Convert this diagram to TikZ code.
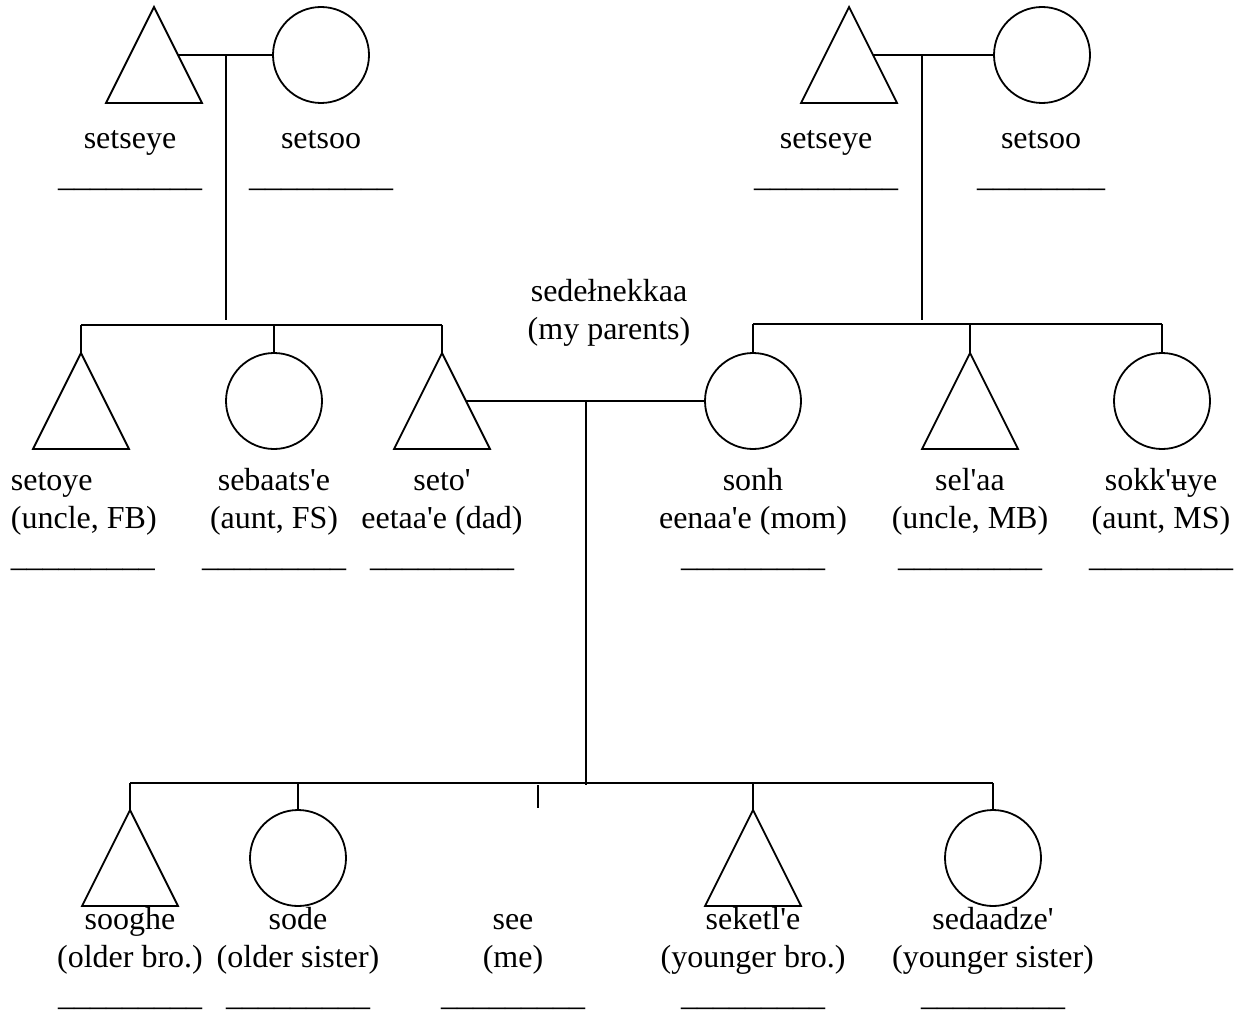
\documentclass[tikz,border=0pt]{standalone}
\usepackage{fontspec}
\setmainfont{Liberation Serif}[Ligatures=TeXOff]
\usetikzlibrary{shapes.geometric}
\tikzset{
  male/.style={draw,isosceles triangle,isosceles triangle stretches,shape border rotate=90,
    minimum width=48pt,minimum height=48pt,inner sep=0pt,outer sep=0pt,anchor=apex},
  female/.style={draw,circle,minimum size=48pt,inner sep=0pt,outer sep=0pt},
  kin/.style={font=\fontsize{16pt}{19pt}\selectfont,align=center,anchor=base,inner sep=0pt}
}
\newcommand{\blank}{\_\_\_\_\_\_\_\_\_}

\begin{document}
\begin{tikzpicture}[x=0.5pt,y=-0.5pt,line width=0.9pt]
		\useasboundingbox (0,0) rectangle (1235,1011);
		% father's side
		\node[male] (fgf) at (154,7) {};
		\node[female] (fgm) at (321,55) {};
		\draw (fgf.right side) -- (fgm.west);
		\coordinate (fsplit) at (226,55);
		\coordinate (fend) at (226,320);
		\draw (fsplit) -- (fend);
		\node[kin] (fgfl) at (130,186) {setseye\\\blank};
		\node[kin] (fgml) at (321,186) {setsoo\\\blank};
		\coordinate (fbarL) at (81,325);
		\coordinate (fbarR) at (442,325);
		\draw (fbarL) -- (fbarR);
		\node[male] (fb) at (81,353) {};
		\node[female] (fs) at (274,401) {};
		\node[male] (dad) at (442,353) {};
		\draw (fbarL) -- (fb.apex);
		\draw (fs.north |- fbarL) -- (fs.north);
		\draw (fbarR) -- (dad.apex);
		\node[kin,align=left,anchor=base west] (fbl) at (10,566) {setoye\\(uncle, FB)\\\blank};
		\node[kin] (fsl) at (274,566) {sebaats'e\\(aunt, FS)\\\blank};
		\node[kin] (dadl) at (442,566) {seto'\\eetaa'e (dad)\\\blank};
		% mother's side
		\node[male] (mgf) at (849,7) {};
		\node[female] (mgm) at (1042,55) {};
		\draw (mgf.right side) -- (mgm.west);
		\coordinate (msplit) at (922,55);
		\coordinate (mend) at (922,320);
		\draw (msplit) -- (mend);
		\node[kin] (mgfl) at (826,186) {setseye\\\blank};
		\node[kin] (mgml) at (1041,186) {setsoo\\\_\_\_\_\_\_\_\_};
		\coordinate (mbarL) at (753,324);
		\coordinate (mbarR) at (1162,324);
		\draw (mbarL) -- (mbarR);
		\node[female] (mom) at (753,401) {};
		\node[male] (mb) at (970,353) {};
		\node[female] (ms) at (1162,401) {};
		\draw (mbarL) -- (mom.north);
		\draw (mb.apex |- mbarL) -- (mb.apex);
		\draw (mbarR) -- (ms.north);
		\node[kin] (moml) at (753,566) {sonh\\eenaa'e (mom)\\\blank};
		\node[kin] (mbl) at (970,566) {sel'aa\\(uncle, MB)\\\blank};
		\node[kin] (msl) at (1161,566) {sokk'ʉye\\(aunt, MS)\\\blank};
		% parents
		\draw (dad.right side) -- (mom.west);
		\node[kin] (par) at (609,339) {sedełnekkaa\\(my parents)};
		\coordinate (psplit) at (586,401);
		\coordinate (pend) at (586,785);
		\draw (psplit) -- (pend);
		% siblings
		\coordinate (sbarL) at (130,783);
		\coordinate (sbarR) at (993,783);
		\draw (sbarL) -- (sbarR);
		\node[male] (ob) at (130,810) {};
		\node[female] (os) at (298,858) {};
		\coordinate (metop) at (538,785);
		\coordinate (me) at (538,808);
		\node[male] (yb) at (753,810) {};
		\node[female] (ys) at (993,858) {};
		\draw (sbarL) -- (ob.apex);
		\draw (os.north |- sbarL) -- (os.north);
		\draw (metop) -- (me);
		\draw (yb.apex |- sbarL) -- (yb.apex);
		\draw (sbarR) -- (ys.north);
		\node[kin] (obl) at (130,1005) {sooghe\\(older bro.)\\\blank};
		\node[kin] (osl) at (298,1005) {sode\\(older sister)\\\blank};
		\node[kin] (mel) at (513,1005) {see\\(me)\\\blank};
		\node[kin] (ybl) at (753,1005) {seketl'e\\(younger bro.)\\\blank};
		\node[kin] (ysl) at (993,1005) {sedaadze'\\(younger sister)\\\blank};
	\end{tikzpicture}
\end{document}
